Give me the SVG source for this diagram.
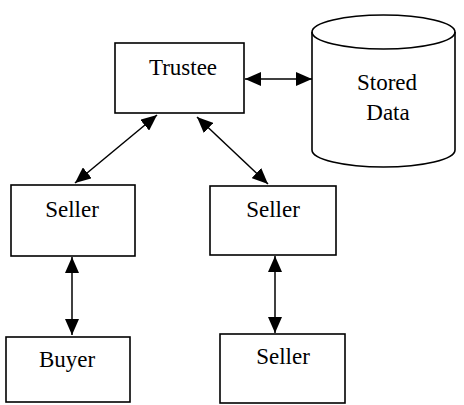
<svg xmlns="http://www.w3.org/2000/svg" width="464" height="405" viewBox="0 0 464 405">
  <style>
    .box { fill: #fff; stroke: #000; stroke-width: 1.6; }
    .lbl { font-family: "Liberation Serif", "Times New Roman", serif; font-size: 23px; fill: #000; text-anchor: middle; }
    .conn { stroke: #000; stroke-width: 1.5; fill: none; marker-start: url(#ah); marker-end: url(#ah); }
  </style>
  <defs>
    <marker id="ah" viewBox="0 0 16 14" refX="16" refY="7" markerWidth="16" markerHeight="14" markerUnits="userSpaceOnUse" orient="auto-start-reverse">
      <path d="M0,0 L16,7 L0,14 Z" fill="#000"/>
    </marker>
  </defs>
  <rect width="464" height="405" fill="#fff"/>

  <g id="trustee">
    <rect class="box" x="115" y="43" width="129" height="70"/>
    <text class="lbl" x="183" y="75">Trustee</text>
  </g>

  <g id="stored-data">
    <path class="box" d="M312,32 L312,150 A71.5,17 0 0 0 455,150 L455,32 A71.5,17 0 0 0 312,32 Z"/>
    <path d="M312,32 A71.5,17 0 0 0 455,32" fill="none" stroke="#000" stroke-width="1.6"/>
    <text class="lbl" x="387" y="90">Stored</text>
    <text class="lbl" x="388" y="120">Data</text>
  </g>

  <g id="seller-left">
    <rect class="box" x="11" y="185" width="124" height="71"/>
    <text class="lbl" x="72" y="217">Seller</text>
  </g>

  <g id="seller-right">
    <rect class="box" x="210" y="186" width="126" height="69"/>
    <text class="lbl" x="273" y="217">Seller</text>
  </g>

  <g id="buyer">
    <rect class="box" x="6" y="337" width="124" height="65"/>
    <text class="lbl" x="67" y="367">Buyer</text>
  </g>

  <g id="seller-bottom">
    <rect class="box" x="220" y="334" width="125" height="69"/>
    <text class="lbl" x="283" y="364">Seller</text>
  </g>

  <g id="connectors">
    <line class="conn" x1="245" y1="79" x2="312" y2="79"/>
    <line class="conn" x1="75" y1="183" x2="157" y2="115"/>
    <line class="conn" x1="197" y1="117" x2="268" y2="184"/>
    <line class="conn" x1="72" y1="257" x2="72" y2="335"/>
    <line class="conn" x1="275" y1="256" x2="275" y2="333"/>
  </g>
</svg>
